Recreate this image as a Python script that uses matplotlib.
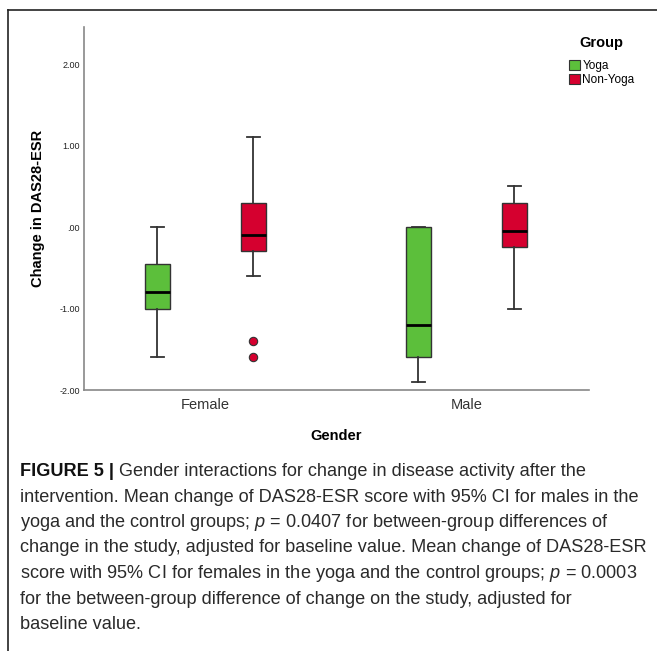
import matplotlib
matplotlib.use("Agg")
import matplotlib.pyplot as plt
from matplotlib.patches import Patch
from matplotlib.lines import Line2D

# ---------------- data ----------------
genders = ["Female", "Male"]
groups = ["Yoga", "Non-Yoga"]
group_colors = ["#5CBF3B", "#D5002F"]
# five-number summaries per gender per group: (whislo, q1, med, q3, whishi)
yoga_stats = [(-1.6, -1.0, -0.8, -0.45, 0.0), (-1.9, -1.6, -1.2, 0.0, 0.0)]
nonyoga_stats = [(-0.6, -0.3, -0.1, 0.3, 1.1), (-1.0, -0.25, -0.05, 0.3, 0.5)]
yoga_outliers = [[], []]
nonyoga_outliers = [[-1.4, -1.6], []]
ytick_values = [-2.0, -1.0, 0.0, 1.0, 2.0]
ytick_labels = ["-2.00", "-1.00", ".00", "1.00", "2.00"]

caption_lines = [
    "intervention. Mean change of DAS28-ESR score with 95% CI for males in the",
    "yoga and the control groups; $p$ = 0.0407 for between-group differences of",
    "change in the study, adjusted for baseline value. Mean change of DAS28-ESR",
    "score with 95% CI for females in the yoga and the control groups; $p$ = 0.0003",
    "for the between-group difference of change on the study, adjusted for",
    "baseline value.",
]
caption_head_bold = "FIGURE 5 | "
caption_head_rest = "Gender interactions for change in disease activity after the"

# ---------------- figure ----------------
plt.rcParams["font.family"] = ["Liberation Sans", "DejaVu Sans"]
plt.rcParams["mathtext.fontset"] = "custom"
plt.rcParams["mathtext.it"] = "Liberation Sans:italic"
plt.rcParams["mathtext.rm"] = "Liberation Sans"

W, H = 657, 651
fig = plt.figure(figsize=(W / 100, H / 100), dpi=100)
fig.patch.set_facecolor("white")

ax = fig.add_axes([84 / W, 1 - 390 / H, (589 - 84) / W, (390 - 27) / H])

offset = 0.184
width = 0.096
for gi, (stats_list, outs, col) in enumerate(
    [(yoga_stats, yoga_outliers, group_colors[0]),
     (nonyoga_stats, nonyoga_outliers, group_colors[1])]):
    bstats = []
    for (lo, q1, med, q3, hi), fl in zip(stats_list, outs):
        bstats.append(dict(whislo=lo, q1=q1, med=med, q3=q3, whishi=hi, fliers=fl))
    pos = [i + (-offset if gi == 0 else offset) for i in range(len(genders))]
    ax.bxp(bstats, positions=pos, widths=width, capwidths=width * 0.5,
           patch_artist=True, showfliers=True,
           boxprops=dict(facecolor=col, edgecolor="#333333", linewidth=1.0),
           medianprops=dict(color="black", linewidth=2.0),
           whiskerprops=dict(color="#333333", linewidth=1.3),
           capprops=dict(color="#333333", linewidth=1.3),
           flierprops=dict(marker="o", markerfacecolor=col, markeredgecolor="#333333",
                           markersize=6, markeredgewidth=0.8))

ax.set_xlim(-0.465, 1.47)
ax.set_ylim(-2.0, 2.454)
ax.set_xticks(range(len(genders)))
ax.set_xticklabels(genders, fontsize=10.5, color="#333333")
ax.set_yticks(ytick_values)
ax.set_yticklabels(ytick_labels, fontsize=6.5, color="#222222")
ax.tick_params(axis="both", length=0, pad=3)
ax.tick_params(axis="x", pad=6)
for s in ["top", "right"]:
    ax.spines[s].set_visible(False)
for s in ["left", "bottom"]:
    ax.spines[s].set_color("#888888")
    ax.spines[s].set_linewidth(1.2)

ax.set_ylabel("Change in DAS28-ESR", fontsize=10.5, fontweight="bold", labelpad=10)
ax.set_xlabel("Gender", fontsize=10.5, fontweight="bold", labelpad=12)

handles = [Patch(facecolor=c, edgecolor="#333333", linewidth=0.8, label=g)
           for c, g in zip(group_colors, groups)]
leg = ax.legend(handles=handles, title="Group", loc="upper left",
                bbox_to_anchor=(561 / W, 1 - 28 / H), bbox_transform=fig.transFigure,
                frameon=False, handlelength=0.9, handleheight=0.9,
                handletextpad=0.2, labelspacing=0.15, borderpad=0.2,
                prop=dict(size=8.5))
leg.get_title().set_fontweight("bold")
leg.get_title().set_fontsize(10.5)
leg._legend_box.align = "center"
leg._legend_box.sep = 7

# frame
fig.add_artist(Line2D([8 / W, 1.0], [1 - 10 / H, 1 - 10 / H], transform=fig.transFigure,
                      color="#222222", linewidth=1.2))
fig.add_artist(Line2D([8 / W, 8 / W], [0, 1 - 10 / H], transform=fig.transFigure,
                      color="#222222", linewidth=1.2))

# caption
cap_x = 20 / W
cap_fs = 13.1
cap_col = "#2a2a2a"
first_y = 1 - 476 / H
line_step = 25.5 / H
t0 = fig.text(cap_x, first_y, caption_head_bold, fontsize=cap_fs, fontweight="bold",
              color="#111111", va="baseline")
ann = ax.annotate(caption_head_rest, xy=(1, 0), xycoords=t0, va="bottom", ha="left",
                  fontsize=cap_fs, color=cap_col, annotation_clip=False)
for i, line in enumerate(caption_lines):
    fig.text(cap_x, first_y - (i + 1) * line_step, line, fontsize=cap_fs,
             color=cap_col, va="baseline")

fig.savefig("out.png", dpi=100)
